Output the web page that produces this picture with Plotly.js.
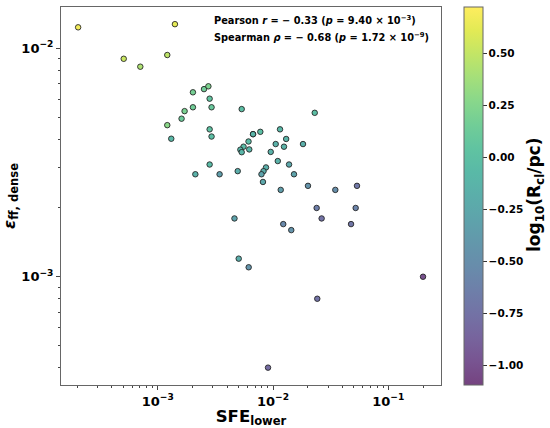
<!DOCTYPE html>
<html>
<head>
<meta charset="utf-8">
<script src="https://cdn.plot.ly/plotly-3.0.1.min.js"></script>
<style>html,body{margin:0;padding:0;background:#fff;}#plot{width:550px;height:428px;}</style>
</head>
<body>
<div id="plot"></div>
<script>
const sfeLower = [2.04e-4,1.41e-3,5.07e-4,7.06e-4,1.21e-3,2.02e-3,2.52e-3,2.75e-3,2.82e-3,1.71e-3,
  2.02e-3,2.93e-3,5.35e-3,2.30e-2,1.61e-3,1.21e-3,1.31e-3,2.82e-3,2.93e-3,6.71e-3,
  6.71e-3,7.76e-3,1.15e-2,1.30e-2,6.13e-3,5.55e-3,5.21e-3,5.35e-3,6.22e-3,1.055e-2,
  1.245e-2,1.82e-2,9.55e-3,1.10e-2,1.377e-2,8.69e-3,8.27e-3,7.94e-3,1.52e-2,8.18e-3,
  2.82e-3,2.12e-3,3.44e-3,4.94e-3,1.166e-2,2.01e-2,3.47e-2,5.35e-2,2.39e-2,5.21e-2,
  4.63e-3,2.64e-2,1.227e-2,1.44e-2,4.75e-2,5.04e-3,6.15e-3,0.200,2.42e-2,9.05e-3];
const effDense = [1.236e-2,1.276e-2,9.00e-3,8.31e-3,9.35e-3,6.42e-3,6.63e-3,6.82e-3,6.02e-3,5.31e-3,
  5.52e-3,5.52e-3,5.42e-3,5.22e-3,4.92e-3,4.61e-3,4.02e-3,4.42e-3,4.11e-3,4.21e-3,
  4.21e-3,4.31e-3,4.42e-3,4.01e-3,3.91e-3,3.71e-3,3.60e-3,3.51e-3,3.61e-3,3.81e-3,
  3.71e-3,3.81e-3,3.52e-3,3.21e-3,3.10e-3,3.01e-3,2.90e-3,2.81e-3,2.81e-3,2.60e-3,
  3.10e-3,2.81e-3,2.81e-3,2.90e-3,2.40e-3,2.50e-3,2.40e-3,2.50e-3,2.00e-3,2.00e-3,
  1.80e-3,1.80e-3,1.70e-3,1.60e-3,1.70e-3,1.20e-3,1.10e-3,1.0e-3,8.01e-4,4.0e-4];
const logRcl = [0.68,0.62,0.52,0.42,0.48,0.18,0.15,0.22,0.05,0.20,
  0.15,0.10,-0.02,-0.02,0.12,0.28,-0.08,0.02,-0.02,-0.12,
  -0.12,-0.02,-0.08,-0.12,-0.05,-0.05,-0.10,-0.10,-0.10,-0.15,
  -0.12,-0.18,-0.15,-0.15,-0.25,-0.18,-0.20,-0.30,-0.30,-0.25,
  -0.05,-0.15,-0.35,-0.20,-0.35,-0.45,-0.50,-0.70,-0.65,-0.60,
  -0.30,-0.75,-0.55,-0.45,-0.72,-0.20,-0.45,-1.00,-0.75,-0.80];

const xTickVals = [1e-3, 1e-2, 1e-1];
const xTickText = ['10<sup>−3</sup>', '10<sup>−2</sup>', '10<sup>−1</sup>'];
const yTickVals = [1e-3, 1e-2];
const yTickText = ['10<sup>−3</sup>', '10<sup>−2</sup>'];
const cbTickVals = [-1.0, -0.75, -0.5, -0.25, 0, 0.25, 0.5];
const cbTickText = ['−1.00', '−0.75', '−0.50', '−0.25', '0.00', '0.25', '0.50'];
const cbTitle = 'log<sub>10</sub>(R<sub>cl</sub>/pc)';
const statLines = [
  'Pearson <i>r</i> = − 0.33 (<i>p</i> = 9.40 × 10<sup>−3</sup>)',
  'Spearman <i>ρ</i> = − 0.68 (<i>p</i> = 1.72 × 10<sup>−9</sup>)'
];

// viridis blended with white (alpha look)
const vir = ['#440154','#48186a','#472d7b','#424086','#3b528b','#33638d','#2c728e','#26828e','#21918c',
  '#1fa088','#28ae80','#3fbc73','#5ec962','#84d44b','#addc30','#d8e219','#fde725'];
const alpha = 0.74;
const cscale = vir.map((h, i) => {
  const r = parseInt(h.slice(1,3),16), g = parseInt(h.slice(3,5),16), b = parseInt(h.slice(5,7),16);
  const f = c => Math.round(alpha*c + (1-alpha)*255);
  return [i/(vir.length-1), `rgb(${f(r)},${f(g)},${f(b)})`];
});

function minorVals(lo, hi) {
  const out = [];
  for (let e = lo; e <= hi; e++) for (let m = 2; m <= 9; m++) out.push(m*Math.pow(10,e));
  return out;
}

const font = "DejaVu Sans, sans-serif";
const trace = {
  type: 'scatter', mode: 'markers', x: sfeLower, y: effDense,
  marker: {
    size: 5.5, color: logRcl, colorscale: cscale, cmin: -1.096, cmax: 0.723,
    line: {color: 'rgba(30,30,30,0.85)', width: 1},
    colorbar: {
      x: 1.0605, xanchor: 'left', xref: 'paper', xpad: 0, ypad: 0,
      y: 0.5, yanchor: 'middle', len: 1, lenmode: 'fraction',
      thickness: 19, thicknessmode: 'pixels', outlinecolor: '#666', outlinewidth: 1,
      ticks: 'outside', ticklen: 3.5, tickcolor: '#333', tickmode: 'array',
      tickvals: cbTickVals, ticktext: cbTickText,
      tickfont: {family: font, size: 10.5, color: '#000', weight: 'bold'},
      title: {text: ''}
    }
  },
  hoverinfo: 'skip'
};

const axisCommon = {
  type: 'log', showgrid: false, zeroline: false, showline: true, mirror: true,
  linecolor: '#666', linewidth: 1, ticks: 'outside', ticklen: 4, tickcolor: '#444',
  tickmode: 'array', tickfont: {family: font, size: 13, color: '#000', weight: 'bold'},
  automargin: false
};

const layout = {
  width: 550, height: 428,
  margin: {l: 61, r: 109, t: 7, b: 43, autoexpand: false},
  paper_bgcolor: '#fff', plot_bgcolor: '#fff', showlegend: false,
  xaxis: Object.assign({}, axisCommon, {
    range: [-3.839, -0.543], tickvals: xTickVals, ticktext: xTickText,
    minor: {tickmode: 'array', tickvals: minorVals(-4, -1), ticks: 'outside', ticklen: 2, tickcolor: '#444'},
    title: {text: 'SFE<sub>lower</sub>', standoff: 1, font: {family: font, size: 16.5, color: '#000', weight: 'bold'}}
  }),
  yaxis: Object.assign({}, axisCommon, {
    range: [-3.474, -1.819], tickvals: yTickVals, ticktext: yTickText,
    minor: {tickmode: 'array', tickvals: minorVals(-4, -2), ticks: 'outside', ticklen: 2, tickcolor: '#444'},
    title: {text: '<i>ε</i><sub>ff, dense</sub>', standoff: 12, font: {family: font, size: 16.5, color: '#000', weight: 'bold'}}
  }),
  annotations: [
    {xref: 'paper', yref: 'paper', x: 0.398, y: 0.9656, xanchor: 'left', yanchor: 'middle', showarrow: false,
     text: statLines[0], font: {family: font, size: 9.8, color: '#000', weight: 'bold'}},
    {xref: 'paper', yref: 'paper', x: 0.398, y: 0.921, xanchor: 'left', yanchor: 'middle', showarrow: false,
     text: statLines[1], font: {family: font, size: 9.8, color: '#000', weight: 'bold'}},
    {xref: 'paper', yref: 'paper', x: 1.2474, y: 0.5026, xanchor: 'center', yanchor: 'middle', showarrow: false,
     textangle: -90, text: cbTitle, font: {family: font, size: 17, color: '#000', weight: 'bold'}}
  ]
};

Plotly.newPlot('plot', [trace], layout, {displayModeBar: false, staticPlot: true});
</script>
</body>
</html>
